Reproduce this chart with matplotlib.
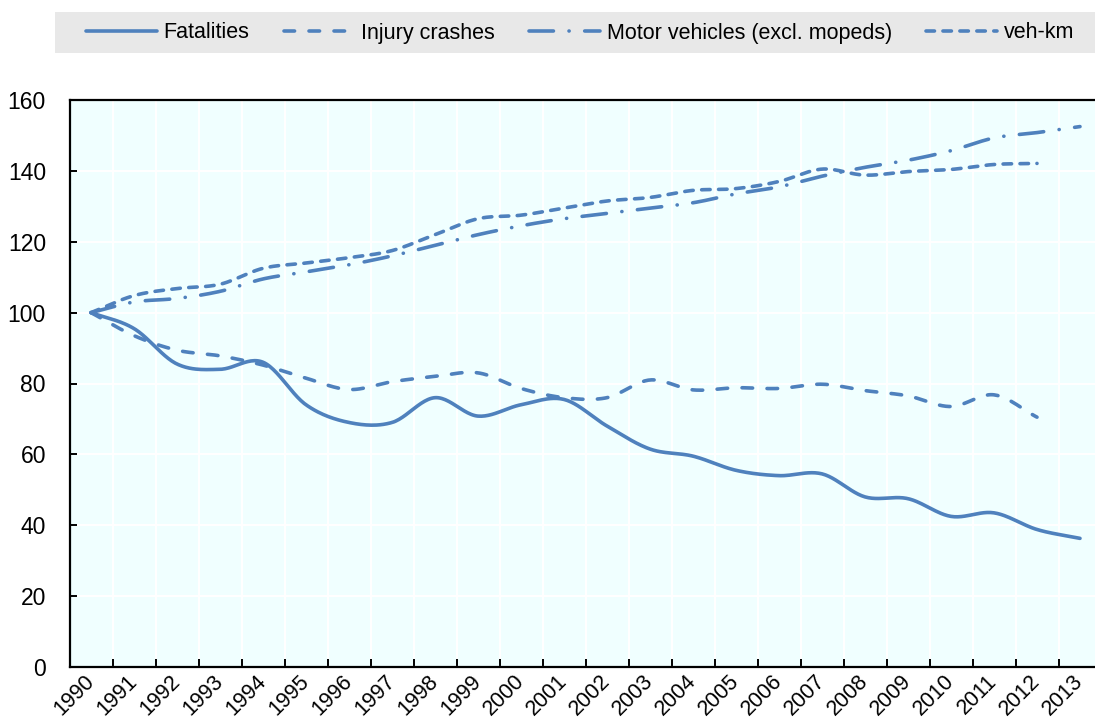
import numpy as np
import matplotlib
matplotlib.use("Agg")
import matplotlib.pyplot as plt
from matplotlib.patches import Rectangle
from matplotlib.ticker import FixedLocator

plt.rcParams['font.family'] = ['Liberation Sans', 'DejaVu Sans']
plt.rcParams['lines.scale_dashes'] = False

years = [str(y) for y in range(1990, 2014)]
fatalities = [100, 95.5, 85.5, 84, 86, 74, 69, 69, 76, 70.8, 74, 75.5, 68, 61.5,
              59.5, 55.5, 54, 54.5, 48, 47.5, 42.5, 43.5, 38.8, 36.3]
injury_crashes = [100, 93.5, 89.4, 87.8, 85.2, 81.5, 78.3, 80.5, 82, 83, 78.6, 76,
                  76, 81, 78.2, 78.8, 78.6, 79.8, 78, 76.5, 73.5, 76.8, 70.5]
motor_vehicles = [100, 103, 104, 106, 109.5, 111.5, 113.5, 116, 119, 122, 124.5,
                  126.5, 128, 129.5, 131, 133.5, 135.5, 138.5, 141, 143, 145.7,
                  149.3, 150.8, 152.5]
veh_km = [100, 104.8, 106.8, 108, 112.5, 114, 115.5, 117.5, 122, 126.5, 127.5,
          129.5, 131.5, 132.5, 134.5, 135, 137, 140.5, 138.8, 139.8, 140.4,
          141.8, 142.1]

blue = '#4F81BD'


def smooth(vals, n=25):
    # catmull-rom, like excel's smoothed lines
    y = np.asarray(vals, dtype=float)
    p = np.concatenate([[2*y[0]-y[1]], y, [2*y[-1]-y[-2]]])
    xs, ys = [], []
    t = np.linspace(0, 1, n, endpoint=False)
    for i in range(len(y)-1):
        p0, p1, p2, p3 = p[i:i+4]
        ys.append(0.5*(2*p1 + (-p0+p2)*t + (2*p0-5*p1+4*p2-p3)*t**2
                       + (-p0+3*p1-3*p2+p3)*t**3))
        xs.append(i + t)
    xs.append([len(y)-1]); ys.append([y[-1]])
    return np.concatenate(xs), np.concatenate(ys)


fig = plt.figure(figsize=(10.95, 7.2), dpi=100)
ax = fig.add_axes([69.5/1095, 1-667/720, 1032/1095, 567/720])
ax.set_facecolor('#F0FFFF')

series = [
    (fatalities, 'Fatalities', '-'),
    (injury_crashes, 'Injury crashes', (0, (7.6, 10.4))),
    (motor_vehicles, 'Motor vehicles (excl. mopeds)', (0, (17.6, 11.2, 0.1, 11.2))),
    (veh_km, 'veh-km', (0, (6.1, 6.1))),
]
for vals, lab, ls in series:
    x, y = smooth(vals)
    ax.plot(x, y, color=blue, lw=2.6, ls=ls, label=lab,
            dash_capstyle='round', solid_capstyle='round')

ax.set_xlim(-0.5, 23.5)
ax.set_ylim(0, 160)
ax.set_yticks(range(0, 161, 20))
ax.set_xticks(range(len(years)))
ax.set_xticklabels(years, rotation=45, ha='right', va='center', rotation_mode='anchor')
ax.xaxis.set_minor_locator(FixedLocator(np.arange(0.5, 23, 1)))

ax.tick_params(axis='x', which='major', length=0, pad=8, labelsize=15.5)
ax.tick_params(axis='x', which='minor', direction='in', length=6, width=1.4)
ax.tick_params(axis='y', direction='in', length=5, width=1.4, pad=17, labelsize=16.5)

ax.grid(True, axis='y', color='white', lw=1.5)
ax.grid(True, axis='x', which='minor', color='white', lw=1.5)
ax.set_axisbelow(True)

for s in ['left', 'bottom', 'top']:
    ax.spines[s].set_linewidth(1.6)
ax.spines['right'].set_visible(False)

fig.patches.append(Rectangle((55/1095, 1-53/720), 1040/1095, 41/720,
                             transform=fig.transFigure, facecolor='#E8E8E8',
                             edgecolor='none', zorder=0))
fig.legend(loc='center', bbox_to_anchor=(580/1095, 1-33/720), ncol=4, frameon=False,
           fontsize=15.5, handlelength=3.3, handletextpad=0.3, columnspacing=1.6)

fig.savefig('out.png', dpi=100)
